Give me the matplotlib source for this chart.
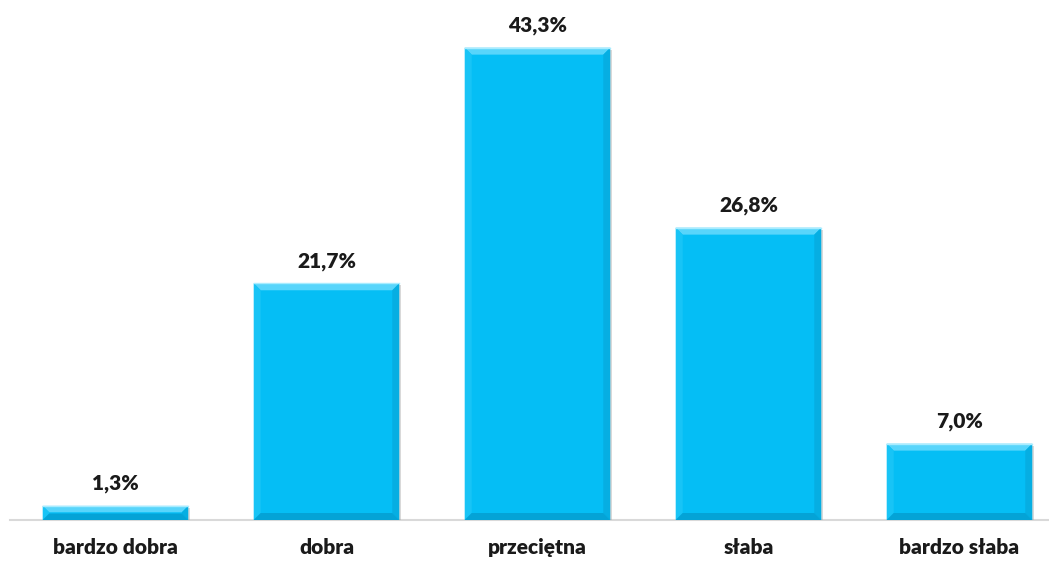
import matplotlib.pyplot as plt
from matplotlib.patches import Polygon

# data
categories = ["bardzo dobra", "dobra", "przeciętna", "słaba", "bardzo słaba"]
values = [1.3, 21.7, 43.3, 26.8, 7.0]
value_labels = ["1,3%", "21,7%", "43,3%", "26,8%", "7,0%"]

plt.rcParams['font.family'] = ['Lato', 'DejaVu Sans']

W, H, DPI = 1049, 562, 100
fig = plt.figure(figsize=(W / DPI, H / DPI), dpi=DPI)
# axis runs slightly past the right edge, like the original
ax = fig.add_axes([10 / W, 42 / H, 1055 / W, 480 / H])
ax.set_xlim(-0.5, len(categories) - 0.5)
ax.set_ylim(0, 44)

main = "#05BEF5"
bar_w = 0.69
xs = range(len(categories))

# soft shadow
ax.bar([x + 0.01 for x in xs], values, width=bar_w, bottom=-0.2,
       color="#A0A0A0", alpha=0.4, zorder=1)
bars = ax.bar(xs, values, width=bar_w, color=main, zorder=2)

# bevel size in pixels -> data units
px_x = (ax.get_xlim()[1] - ax.get_xlim()[0]) / 1055
px_y = (ax.get_ylim()[1] - ax.get_ylim()[0]) / 480
bx, by = 7 * px_x, 7 * px_y

for b in bars:
    x0, y0 = b.get_x(), b.get_y()
    x1, y1 = x0 + b.get_width(), y0 + b.get_height()
    d_y = min(by, b.get_height() / 2.2)
    d_x = bx * d_y / by
    top = [(x0, y1), (x1, y1), (x1 - d_x, y1 - d_y), (x0 + d_x, y1 - d_y)]
    bottom = [(x0, y0), (x1, y0), (x1 - d_x, y0 + d_y), (x0 + d_x, y0 + d_y)]
    left = [(x0, y0), (x0, y1), (x0 + d_x, y1 - d_y), (x0 + d_x, y0 + d_y)]
    right = [(x1, y0), (x1, y1), (x1 - d_x, y1 - d_y), (x1 - d_x, y0 + d_y)]
    for pts, c in [(top, "#58D5FB"), (left, "#18C4F6"), (right, "#06AEE2"), (bottom, "#04A3D6")]:
        ax.add_patch(Polygon(pts, closed=True, facecolor=c, edgecolor="none", zorder=3))
    ax.plot([x0, x1], [y1, y1], color="#A8ECFF", lw=1, zorder=4)

for b, lab in zip(bars, value_labels):
    ax.annotate(lab, (b.get_x() + b.get_width() / 2, b.get_height()),
                xytext=(0, 9), textcoords="offset points",
                ha="center", va="bottom", fontsize=15, fontweight="heavy", color="#1a1a1a")

ax.set_xticks(list(xs))
ax.set_xticklabels(categories, fontsize=15, fontweight="heavy", color="#1a1a1a")
ax.tick_params(axis="x", length=0, pad=13)
ax.set_yticks([])
for s in ["top", "right", "left"]:
    ax.spines[s].set_visible(False)
ax.spines["bottom"].set_color("#D9D9D9")
ax.spines["bottom"].set_linewidth(1.5)
ax.spines["bottom"].set_zorder(0)

fig.savefig("out.png", dpi=DPI)
